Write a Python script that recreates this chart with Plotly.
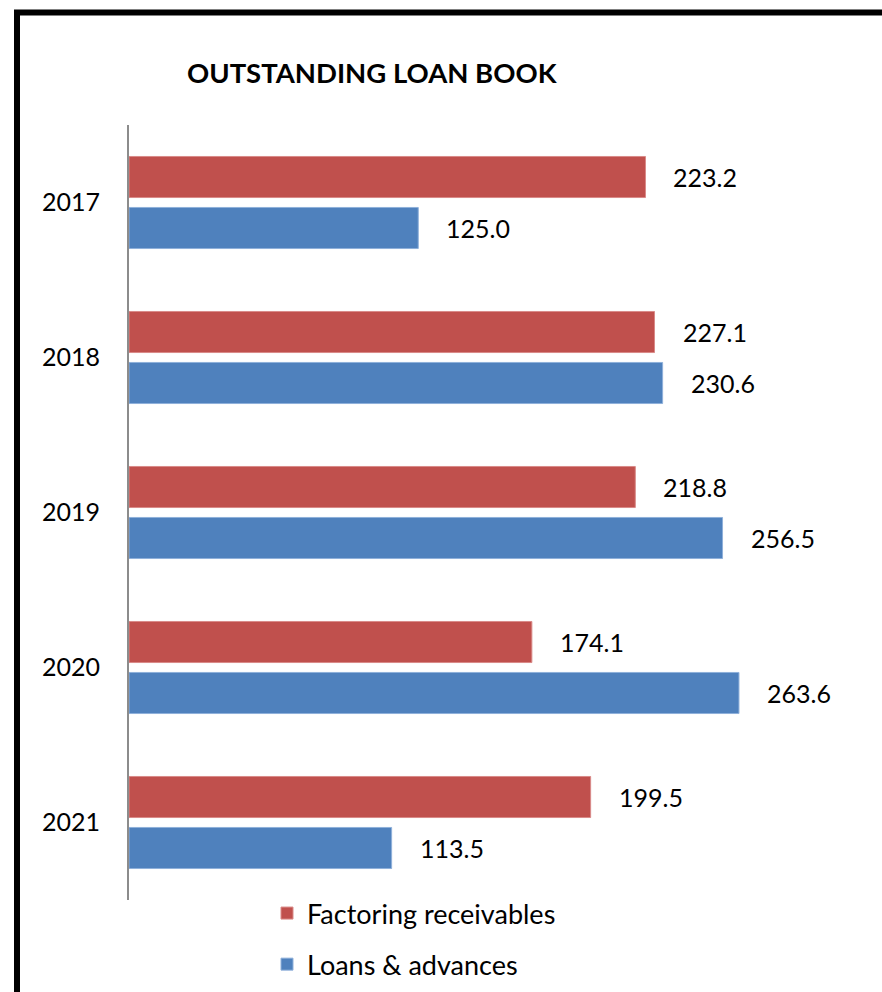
import plotly.graph_objects as go

years = ["2017", "2018", "2019", "2020", "2021"]
factoring = [223.2, 227.1, 218.8, 174.1, 199.5]
loans = [125.0, 230.6, 256.5, 263.6, 113.5]
series_names = ["Factoring receivables", "Loans & advances"]
title_text = "OUTSTANDING LOAN BOOK"

RED = "#C0504D"
BLUE = "#4F81BD"
FONT = "Lato"

W, H = 882, 992
ML, MR, MT, MB = 129, 62, 125, 92
PW = W - ML - MR
PH = H - MT - MB
XMAX = PW / 2.314

BAR_W = 0.265
RED_OFF = -0.297
BLUE_OFF = 0.032

fig = go.Figure()
fig.add_trace(go.Bar(
    y=years, x=factoring, orientation="h", name=series_names[0],
    marker=dict(color=RED, line=dict(color="#D98A88", width=1)),
    width=BAR_W, offset=RED_OFF, legendgroup="a",
))
fig.add_trace(go.Bar(
    y=years, x=loans, orientation="h", name=series_names[1],
    marker=dict(color=BLUE, line=dict(color="#8FB0DA", width=1)),
    width=BAR_W, offset=BLUE_OFF, legendgroup="b",
))

annotations = []
for i, (f, l) in enumerate(zip(factoring, loans)):
    annotations.append(dict(x=f, y=i + RED_OFF + BAR_W / 2, xref="x", yref="y",
                            text=f"{f:.1f}", showarrow=False, xanchor="left",
                            xshift=26, font=dict(family=FONT, size=25, color="black")))
    annotations.append(dict(x=l, y=i + BLUE_OFF + BAR_W / 2, xref="x", yref="y",
                            text=f"{l:.1f}", showarrow=False, xanchor="left",
                            xshift=26, font=dict(family=FONT, size=25, color="black")))

annotations.append(dict(x=(372 - ML) / PW, y=(H - MB - 73) / PH, xref="paper", yref="paper",
                        text=f"<b>{title_text}</b>", showarrow=False,
                        xanchor="center", yanchor="middle",
                        font=dict(family=FONT, size=27.5, color="black")))

fig.update_layout(
    width=W, height=H,
    margin=dict(l=ML, r=MR, t=MT, b=MB, autoexpand=False),
    paper_bgcolor="white", plot_bgcolor="white",
    barmode="overlay",
    showlegend=True,
    legend=dict(x=(267 - ML) / PW, y=1 - 889 / H, yref="container",
                xanchor="left", yanchor="top",
                font=dict(family=FONT, size=27, color="black"),
                tracegroupgap=13, bgcolor="rgba(0,0,0,0)"),
    xaxis=dict(range=[0, XMAX], showgrid=False, zeroline=False, showline=False,
               showticklabels=False, ticks=""),
    yaxis=dict(autorange="reversed", showgrid=False, zeroline=False,
               showline=True, linecolor="#8C8C8C", linewidth=2,
               ticks="", ticklabelstandoff=22,
               tickfont=dict(family=FONT, size=25, color="black")),
    annotations=annotations,
    shapes=[dict(type="rect", xref="paper", yref="paper",
                 x0=(17 - ML) / PW, x1=(900 - ML) / PW,
                 y0=(H - MB - 1010) / PH, y1=(H - MB - 12.5) / PH,
                 line=dict(color="black", width=6), fillcolor="rgba(0,0,0,0)",
                 layer="above")],
)

fig.write_html("out.html")
